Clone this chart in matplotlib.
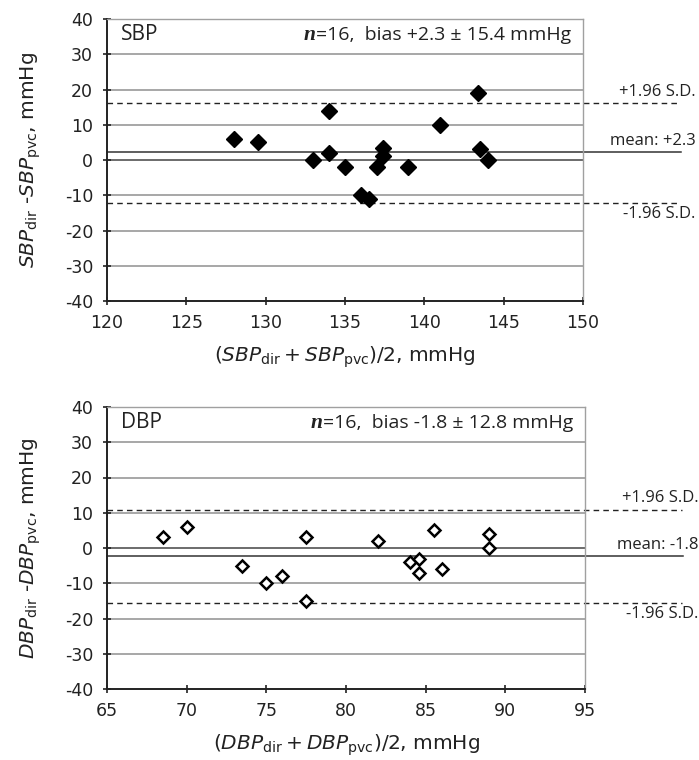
import matplotlib
matplotlib.use("Agg")
import matplotlib.pyplot as plt
import matplotlib.transforms as mtransforms

plt.rcParams["axes.unicode_minus"] = False

# --- data ---
sbp_mean = [128, 129.5, 133, 134, 134, 135, 136, 136.5, 137, 137.4, 137.4, 139, 141, 143.4, 143.5, 144]
sbp_diff = [6, 5, 0, 14, 2, -2, -10, -11, -2, 3.3, 1, -2, 10, 19, 3.2, 0]
sbp_lines = [2.2, 16.1, -12.1]      # mean, +1.96 SD, -1.96 SD (drawn positions)

dbp_mean = [68.5, 70, 73.5, 75, 76, 77.5, 77.5, 82, 84, 84.6, 84.6, 85.5, 86, 89, 89]
dbp_diff = [3, 6, -5, -10, -8, 3, -15, 2, -4, -3, -7, 5, -6, 4, 0]
dbp_lines = [-2.4, 10.9, -15.5]

yticks = [-40, -30, -20, -10, 0, 10, 20, 30, 40]
sbp_xticks = [120, 125, 130, 135, 140, 145, 150]
dbp_xticks = [65, 70, 75, 80, 85, 90, 95]

TXT = "Open Sans"
GRID = "#8f8f8f"

fig = plt.figure(figsize=(6.99, 7.6), dpi=100)
ax1 = fig.add_axes([107 / 699, 1 - 301 / 760, 476 / 699, 282 / 760])
ax2 = fig.add_axes([107 / 699, 1 - 689 / 760, 478 / 699, 282 / 760])


def panel(ax, xs, ys, xticks, lines, name, bias, mean_lbl, filled, xlabel, ylabel):
    ax.set_xlim(xticks[0], xticks[-1])
    ax.set_ylim(-40, 40)
    ax.set_xticks(xticks)
    ax.set_yticks(yticks)
    ax.tick_params(direction="inout", length=6, width=1.2, labelsize=12.5, pad=6, colors="#222222")
    ax.tick_params(axis="y", pad=7)

    for s in ["top", "right"]:
        ax.spines[s].set_color("#a0a0a0")
        ax.spines[s].set_linewidth(1.0)
    for s in ["left", "bottom"]:
        ax.spines[s].set_color("#222222")
        ax.spines[s].set_linewidth(1.4)

    for v in yticks[1:-1]:
        c = "#444444" if v == 0 else GRID
        ax.axhline(v, color=c, lw=1.1, zorder=1)

    tr = mtransforms.blended_transform_factory(ax.transAxes, ax.transData)
    m, up, lo = lines
    ax.plot([0, 1.206], [m, m], color="#333333", lw=1.1, transform=tr, clip_on=False, zorder=2)
    ax.plot([0, 1.202], [up, up], color="#222222", lw=1.0, ls=(0, (4, 3)), transform=tr, clip_on=False, zorder=2)
    ax.plot([0, 1.202], [lo, lo], color="#222222", lw=1.0, ls=(0, (4, 3)), transform=tr, clip_on=False, zorder=2)

    ax.text(1.237, up + 1.0, "+1.96 S.D.", transform=tr, ha="right", va="bottom",
            fontsize=12, family=TXT, color="#222222")
    ax.text(1.237, m + 1.0, mean_lbl, transform=tr, ha="right", va="bottom",
            fontsize=12, family=TXT, color="#222222")
    ax.text(1.237, lo - 1.0, "-1.96 S.D.", transform=tr, ha="right", va="top",
            fontsize=12, family=TXT, color="#222222")

    if filled:
        ax.plot(xs, ys, "D", color="black", ms=8, zorder=4, clip_on=False)
    else:
        ax.plot(xs, ys, "D", mfc="white", mec="black", mew=1.8, ms=6.5, zorder=4, clip_on=False)

    ax.text(0.03, 35.5, name, transform=tr, ha="left", va="center", fontsize=15, family=TXT, color="#222222")
    t = ax.text(0.975, 35.5, "=16,  bias " + bias + " mmHg", transform=tr, ha="right", va="center",
                fontsize=14, family=TXT, color="#222222")
    ax.annotate("n", xy=(0, 0.5), xycoords=t, ha="right", va="center", fontsize=15.5,
                family="Liberation Serif", weight="bold", style="italic", color="#222222")

    ax.set_xlabel(xlabel, fontsize=14.5, labelpad=9, color="#222222")
    ax.set_ylabel(ylabel, fontsize=14.5, labelpad=16, color="#222222")


panel(ax1, sbp_mean, sbp_diff, sbp_xticks, sbp_lines, "SBP", "+2.3 \u00b1 15.4", "mean: +2.3", True,
      r"($\mathit{SBP}_{\mathrm{dir}} + \mathit{SBP}_{\mathrm{pvc}}$)/2, mmHg",
      r"$\mathit{SBP}_{\mathrm{dir}}$ -$\mathit{SBP}_{\mathrm{pvc}}$, mmHg")
panel(ax2, dbp_mean, dbp_diff, dbp_xticks, dbp_lines, "DBP", "-1.8 \u00b1 12.8", "mean: -1.8", False,
      r"($\mathit{DBP}_{\mathrm{dir}} + \mathit{DBP}_{\mathrm{pvc}}$)/2, mmHg",
      r"$\mathit{DBP}_{\mathrm{dir}}$ -$\mathit{DBP}_{\mathrm{pvc}}$, mmHg")

fig.savefig("out.png", dpi=100)
